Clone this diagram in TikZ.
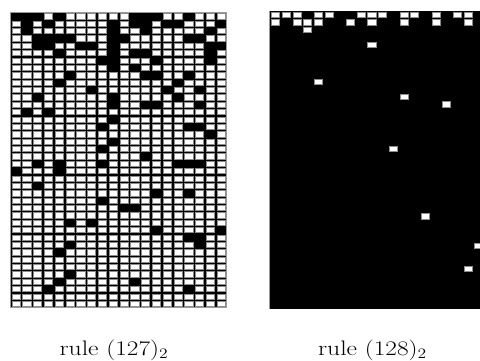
\documentclass[tikz,border=0pt]{standalone}
\tikzset{
  whitecell/.style={fill=white,draw=black!45,line width=0.5pt},
  blackcell/.style={fill=black},
  gridframe/.style={draw=black!40,line width=0.8pt},
  caption/.style={font=\fontsize{21}{25}\selectfont,xscale=1.22,anchor=base,inner sep=0pt}
}
\begin{document}
\begin{tikzpicture}[x=1pt,y=-1pt]
\useasboundingbox (0,0) rectangle (480,360);
\fill[white] (0,0) rectangle (480,360);
% ---------- left grid: 20 x 40 ----------
\def\LX{10}\def\LY{12.3}\def\LW{10.8}\def\LH{7.375}
\fill[black] (\LX,\LY) rectangle (\LX+20*\LW,\LY+40*\LH);
\foreach \r in {0,...,39}{
  \foreach \c in {0,...,19}{
    \path[whitecell] (\LX+\c*\LW+1.9,\LY+\r*\LH+1.2) rectangle (\LX+\c*\LW+10.1,\LY+\r*\LH+6.5);
  }
}
\foreach \r/\cols in {
  0/{0,1,2,4,11,12,13,16},
  1/{1,3,9,11,12,14,15,19},
  2/{1,9,12,18},
  3/{2,3,4,5,9,10,16,17},
  4/{2,3,6,7,9,18,19},
  5/{4,9,11,12,18},
  6/{8,9,13,18},
  7/{9,11},
  8/{5,12,13,16},
  9/{4,15},
  10/{7,14,17},
  11/{2,9,15},
  12/{9,12,13,17},
  13/{1,3},
  14/{9},
  15/{8,16,17},
  16/{18},
  17/{9},
  18/{8},
  19/{12},
  20/{2,4,8,15,16,17},
  21/{0,4},
  23/{2},
  24/{13,16},
  25/{8},
  26/{10,11},
  28/{5,7},
  29/{13,19},
  30/{16,17},
  31/{5,17},
  32/{4},
  35/{5},
  36/{4,11},
  37/{3,16}}{
  \foreach \c in \cols{
    \fill[blackcell] (\LX+\c*\LW,\LY+\r*\LH) rectangle (\LX+\c*\LW+\LW,\LY+\r*\LH+\LH);
  }
}
\draw[gridframe] (\LX,\LY) rectangle (\LX+20*\LW,\LY+40*\LH);
% ---------- right grid: black with a few white cells ----------
\def\RX{269.3}\def\RY{10.7}\def\RW{10.7}\def\RH{7.465}
\fill[black] (\RX,\RY) rectangle (\RX+20*\RW,\RY+40*\RH);
\foreach \c/\r in {0/0,1/0,2/0,4/0,5/0,8/0,9/0,10/0,12/0,13/0,15/0,17/0,18/0,
  0/1,2/1,3/1,4/1,7/1,9/1,12/1,15/1,18/1,
  3/2,9/4,4/9,12/11,16/12,11/18,14/27,19/31,18/34}{
  \path[whitecell] (\RX+\c*\RW+2.1,\RY+\r*\RH+1.3) rectangle (\RX+\c*\RW+10.2,\RY+\r*\RH+6.6);
}
\draw[gridframe] (\RX,\RY) -- (\RX,\RY+40*\RH);
% ---------- captions ----------
\node[caption] (capL) at (114,355) {rule $(127)_2$};
\node[caption] (capR) at (372.5,355) {rule $(128)_2$};
\end{tikzpicture}
\end{document}
